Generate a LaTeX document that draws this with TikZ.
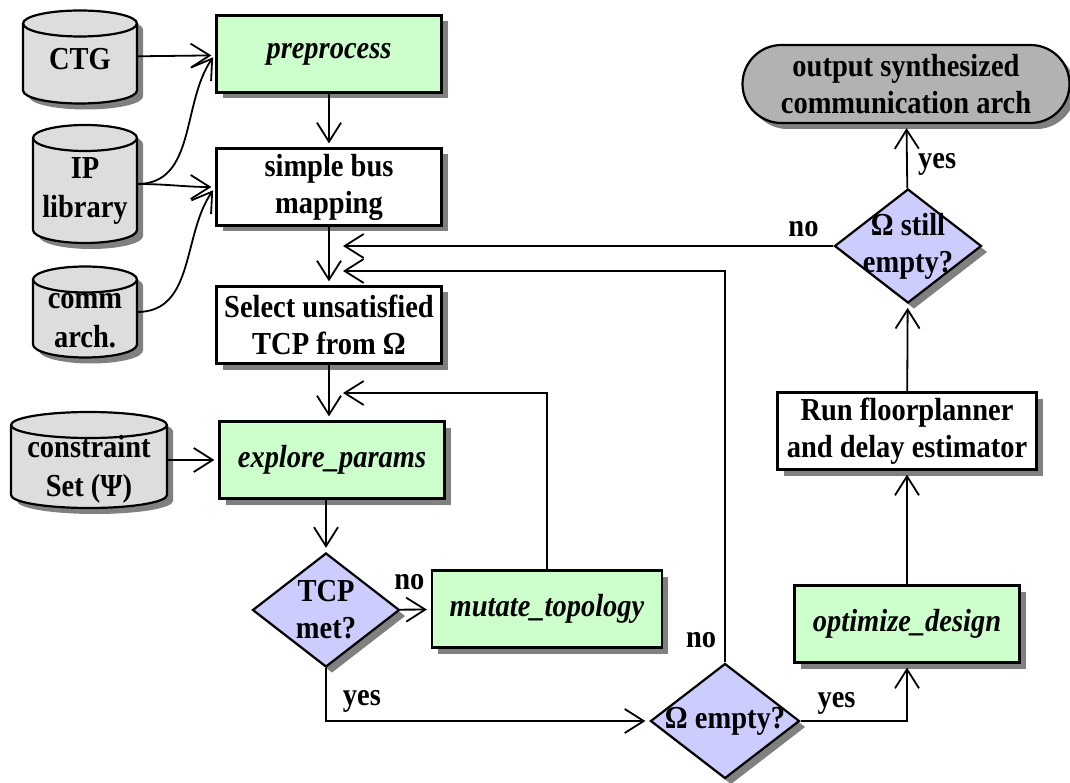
\documentclass[tikz,border=0pt]{standalone}
\usepackage{fontspec}
\setmainfont{Liberation Serif}[FakeStretch=0.89]
\usetikzlibrary{shapes.geometric, shapes.misc, shadows, arrows.meta}

\definecolor{procgreen}{HTML}{CCFFCC}
\definecolor{testblue}{HTML}{CCCCFF}
\definecolor{dbgray}{HTML}{DDDDDD}
\definecolor{endgray}{HTML}{B2B2B2}

% database cylinder: name, x, y, width, height, text shift, text
\newcommand{\dbase}[7]{%
  \draw[db] ({#2-#4/2},{#3-#5/2+13}) -- ({#2-#4/2},{#3+#5/2-13})
    arc[start angle=180, end angle=0, x radius=#4/2, y radius=13]
    -- ({#2+#4/2},{#3-#5/2+13})
    arc[start angle=0, end angle=-180, x radius=#4/2, y radius=13] -- cycle;
  \draw[dbedge] ({#2-#4/2},{#3-#5/2+13})
    arc[start angle=180, end angle=0, x radius=#4/2, y radius=13];
  \node[minimum width=#4, minimum height=#5, inner sep=0pt,
    label={[align=center, yshift=-#6pt, font=\fontsize{32}{39}\selectfont\bfseries]center:#7}] (#1) at (#2,#3) {};
}

\begin{document}
\begin{tikzpicture}[
  x=1pt, y=-1pt,
  font=\fontsize{32}{37}\selectfont\bfseries,
  shade/.style={drop shadow={shadow xshift=6pt, shadow yshift=-6pt, fill=black!50, opacity=1}},
  task/.style={draw, line width=2.2pt, fill=white, align=center, inner sep=0pt, minimum width=225pt, minimum height=77pt, shade},
  proc/.style={task, fill=procgreen, font=\fontsize{32}{37}\selectfont\bfseries\itshape},
  test/.style={diamond, draw, line width=2.2pt, fill=testblue, inner sep=0pt, minimum width=147pt, minimum height=114pt, shade},
  db/.style={draw, line width=2.2pt, fill=dbgray, shade},
  dbedge/.style={draw, line width=2.2pt},
  final/.style={rounded rectangle, draw, line width=2.2pt, fill=endgray, align=center, inner sep=0pt, shade},
  arrow/.style={-{Straight Barb[length=19pt, width=24pt, line width=1.8pt]}, line width=1.8pt, shorten >=4pt},
  lbl/.style={inner sep=0pt, font=\fontsize{32}{37}\selectfont\bfseries}
]
\useasboundingbox (0,0) rectangle (1070,783);

% Inputs
\dbase{ctg}{80}{57}{114}{93}{2}{CTG}
\dbase{ip}{85}{184}{104}{118}{7}{IP\\library}
\dbase{comm}{85}{312}{104}{91}{9}{comm\\arch.}
\dbase{cons}{89}{460}{156}{96}{9}{constraint\\Set (Ψ)}

% Left column
\node[proc] (pre) at (329,54) {preprocess};
\node[task] (map) at (329,187) {simple bus\\mapping};
\node[task] (sel) at (329,325) {Select unsatisfied\\TCP from Ω};
\node[proc] (exp) at (332,460) {explore\_params};
\node[test, label={[align=center]center:TCP\\met?}] (tcp) at (326,610) {};
\node[proc, minimum width=230pt] (mut) at (547,609) {mutate\_topology};

% Right column
\node[test, minimum width=149pt, minimum height=115pt, label={center:Ω empty?}] (ome) at (725,721) {};
\node[proc] (opt) at (907,624) {optimize\_design};
\node[task, minimum width=259pt] (run) at (907,431) {Run floorplanner\\and delay estimator};
\node[test, label={[align=center]center:Ω still\\empty?}] (still) at (908,246) {};
\node[final, minimum width=327pt, minimum height=78pt] (out) at (906,84) {output synthesized\\communication arch};

% loop entry points
\coordinate (back1) at (339,246);
\coordinate (back2) at (339,271);
\coordinate (back3) at (339,393);

% Arrows
\draw[arrow] (ctg) -- (pre);
\draw[arrow] (ip.east) to[out=0, in=235] (pre.west);
\draw[arrow] (ip.east) to[out=0, in=180] (map.west);
\draw[arrow] (comm.east) to[out=0, in=235] (map.west);
\draw[arrow] (pre) -- (map);
\draw[arrow] (map) -- (sel);
\draw[arrow] (sel) -- (sel |- exp.north);
\draw[arrow] (cons) -- (exp);
\draw[arrow] (tcp |- exp.south) -- (tcp);
\draw[arrow] (tcp) -- (mut) node[lbl, pos=0.3, above=19pt]{no};
\draw[arrow] (mut.north) |- (back3);
\draw[arrow] (tcp.south) |- node[lbl, pos=0.5, anchor=base west, xshift=16pt, yshift=16pt]{yes} (ome.west);
\draw[arrow] (ome.north) |- node[lbl, pos=0, anchor=base east, xshift=-8pt, yshift=15pt]{no} (back2);
\draw[arrow] (ome.east) -| node[lbl, pos=0, anchor=base west, xshift=16pt, yshift=14pt]{yes} (opt.south);
\draw[arrow] (opt) -- (run);
\draw[arrow] (run) -- (still);
\draw[arrow] (still) -- (out) node[lbl, pos=0, anchor=base west, xshift=10pt, yshift=20pt]{yes};
\draw[arrow] (still.west) -- (back1) node[lbl, pos=0, anchor=base east, xshift=-14pt, yshift=9pt]{no};

\end{tikzpicture}
\end{document}
